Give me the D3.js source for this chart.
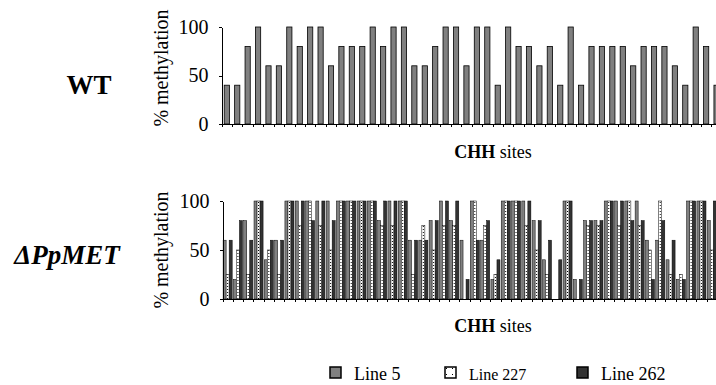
<!DOCTYPE html>
<html>
<head>
<meta charset="utf-8">
<script src="https://cdn.jsdelivr.net/npm/d3@7/dist/d3.min.js"></script>
<style>
  html, body { margin: 0; padding: 0; background: #fff; }
  svg { display: block; }
  svg text { font-family: "Liberation Serif", "Times New Roman", serif !important; fill: #000; }
</style>
</head>
<body>
<svg id="chart" width="716" height="385"></svg>
<script>
// ---- data ----
const wtSites = d3.range(1, 49).map(String);
const wtValues = [40,40,80,100,60,60,100,80,100,100,60,80,80,80,100,80,100,100,60,60,80,100,100,60,100,100,40,100,80,80,60,80,40,100,40,80,80,80,80,60,80,80,80,60,40,100,80,40];

const metSites = d3.range(1, 49).map(String);
const line5   = [60,20,80,100,40,60,100,100,100,100,100,100,100,100,100,80,100,100,60,60,80,100,80,60,100,60,20,100,100,100,80,40,0,100,20,80,80,100,100,100,100,60,60,40,20,100,100,80];
const line227 = [25,50,25,100,50,25,100,75,100,75,50,100,100,100,100,75,75,100,25,75,50,75,75,0,100,75,25,100,100,75,50,25,0,100,0,75,75,100,75,100,75,50,100,25,25,100,100,50];
const line262 = [60,80,60,100,60,60,100,100,80,100,80,100,100,100,100,100,100,100,60,60,80,100,100,20,60,80,40,100,100,100,80,60,40,100,20,80,80,100,100,80,80,20,80,60,20,100,100,100];

const seriesNames = ["Line 5", "Line 227", "Line 262"];
const yTicks = [0, 50, 100];

const SERIF = "Liberation Serif, Times New Roman, serif";

// ---- setup ----
const svg = d3.select("#chart");
svg.append("rect").attr("width", 716).attr("height", 385).attr("fill", "#fff");

const defs = svg.append("defs");
const pat = defs.append("pattern").attr("id", "dots").attr("patternUnits", "userSpaceOnUse")
  .attr("width", 3).attr("height", 3);
pat.append("rect").attr("width", 3).attr("height", 3).attr("fill", "#fff");
pat.append("rect").attr("x", 1).attr("y", 1).attr("width", 1).attr("height", 1).attr("fill", "#000");
const pat2 = defs.append("pattern").attr("id", "dotsLegend").attr("patternUnits", "userSpaceOnUse")
  .attr("width", 6).attr("height", 6);
pat2.append("rect").attr("width", 6).attr("height", 6).attr("fill", "#fff");
pat2.append("rect").attr("x", 2).attr("y", 2).attr("width", 1).attr("height", 1).attr("fill", "#000");

const fills = { "Line 5": "#808080", "Line 227": "url(#dots)", "Line 262": "#333333" };
const legendFills = { "Line 5": "#808080", "Line 227": "url(#dotsLegend)", "Line 262": "#333333" };

function drawAxes(g, xStart, step, n, y, cy) {
  const xLin = d3.scaleLinear().domain([0, n]).range([xStart, xStart + n * step]);
  const xa = g.append("g").attr("transform", `translate(0,${y(0)})`)
    .call(d3.axisBottom(xLin).tickValues(d3.range(0, n + 1)).tickSize(3).tickSizeOuter(0).tickFormat(""));
  xa.selectAll("path,line").attr("stroke", "#000").attr("shape-rendering", "crispEdges");
  const ya = g.append("g").attr("transform", `translate(${xStart},0)`)
    .call(d3.axisLeft(y).tickValues(yTicks).tickSize(3).tickSizeOuter(0).tickPadding(10));
  ya.attr("font-family", SERIF).attr("font-size", 20);
  ya.selectAll("path,line").attr("stroke", "#000").attr("shape-rendering", "crispEdges");
  ya.selectAll("text").attr("font-size", 20).style("font-family", SERIF).attr("fill", "#000");
  g.append("text").attr("transform", `translate(168,${cy}) rotate(-90)`)
    .attr("text-anchor", "middle").attr("font-size", 20).style("font-family", SERIF).text("% methylation");
}

// ---- WT chart ----
const wtX0 = 221.6, wtStep = 10.42;
const xWT = d3.scaleBand().domain(wtSites).range([wtX0, wtX0 + wtSites.length * wtStep])
  .paddingInner(0.5).paddingOuter(0.25);
const yWT = d3.scaleLinear().domain([0, 100]).range([124, 27]);
const gWT = svg.append("g");
gWT.selectAll("rect.bar").data(wtValues).join("rect").attr("class", "bar")
  .attr("x", (d, i) => xWT(wtSites[i])).attr("width", xWT.bandwidth())
  .attr("y", d => yWT(d)).attr("height", d => yWT(0) - yWT(d))
  .attr("fill", "#808080").attr("stroke", "#000").attr("stroke-width", 0.8);
drawAxes(gWT, wtX0, wtStep, wtSites.length, yWT, 68);
svg.append("text").attr("x", 89).attr("y", 94).attr("text-anchor", "middle")
  .attr("font-size", 27).attr("font-weight", "bold").style("font-family", SERIF).text("WT");
svg.append("text").attr("x", 493).attr("y", 158).attr("text-anchor", "middle").attr("font-size", 18)
  .style("font-family", SERIF)
  .call(t => { t.append("tspan").attr("font-weight", "bold").text("CHH"); t.append("tspan").text(" sites"); });

// ---- ΔPpMET chart ----
const mX0 = 222.5, mStep = 10.3;
const xM = d3.scaleBand().domain(metSites).range([mX0, mX0 + metSites.length * mStep])
  .paddingInner(0.12).paddingOuter(0.06);
const xS = d3.scaleBand().domain(seriesNames).range([0, xM.bandwidth()]);
const yM = d3.scaleLinear().domain([0, 100]).range([299, 201]);
const gM = svg.append("g");
const table = metSites.map((s, i) => ({ site: s, vals: [
  { key: "Line 5", v: line5[i] }, { key: "Line 227", v: line227[i] }, { key: "Line 262", v: line262[i] }] }));
gM.selectAll("g.grp").data(table).join("g").attr("class", "grp")
  .attr("transform", d => `translate(${xM(d.site)},0)`)
  .selectAll("rect").data(d => d.vals).join("rect")
  .attr("x", d => xS(d.key)).attr("width", xS.bandwidth())
  .attr("y", d => yM(d.v)).attr("height", d => yM(0) - yM(d.v))
  .attr("fill", d => fills[d.key]).attr("stroke", "#000").attr("stroke-width", 0.5);
drawAxes(gM, mX0, mStep, metSites.length, yM, 250);
svg.append("text").attr("x", 67).attr("y", 264).attr("text-anchor", "middle")
  .attr("font-size", 27).attr("font-weight", "bold").attr("font-style", "italic")
  .style("font-family", SERIF).text("ΔPpMET");
svg.append("text").attr("x", 493).attr("y", 332).attr("text-anchor", "middle").attr("font-size", 18)
  .style("font-family", SERIF)
  .call(t => { t.append("tspan").attr("font-weight", "bold").text("CHH"); t.append("tspan").text(" sites"); });

// ---- legend ----
const legendX = [330, 445, 577];
const legendFont = [18, 16, 18];
const lg = svg.append("g");
seriesNames.forEach((name, i) => {
  lg.append("rect").attr("x", legendX[i]).attr("y", 367).attr("width", 11).attr("height", 11)
    .attr("fill", legendFills[name]).attr("stroke", "#000").attr("stroke-width", 1.5);
  lg.append("text").attr("x", legendX[i] + 24).attr("y", 380)
    .attr("font-size", legendFont[i]).style("font-family", SERIF).text(name);
});
</script>
</body>
</html>
